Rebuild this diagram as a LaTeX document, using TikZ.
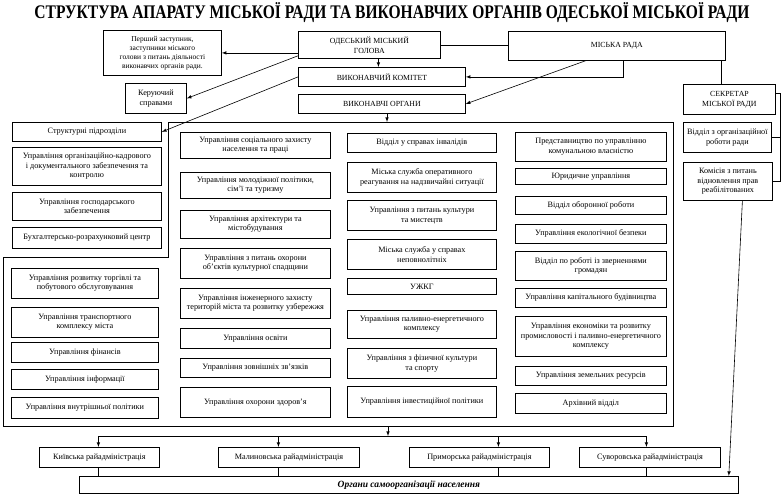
\documentclass[tikz,border=0pt]{standalone}
\usepackage{fontspec}
\setmainfont{Liberation Serif}
\usepackage{graphicx}
\usepackage{tikz}

\begin{document}
\begin{tikzpicture}[x=1pt, y=-1pt, >=latex,
box/.style={rectangle, draw=black, fill=white, thick, anchor=north west, align=center, inner sep=1pt, font=\fontsize{8.2}{9.5}\selectfont},
capbox/.style={box, font=\fontsize{7.8}{10}\selectfont},
link/.style={draw=black, semithick}
]
\useasboundingbox (0,0) rectangle (781,495);

\node[anchor=base](title) at (392,19){\resizebox{715pt}{16pt}{\fontsize{15}{17}\selectfont\bfseries СТРУКТУРА АПАРАТУ МІСЬКОЇ РАДИ ТА ВИКОНАВЧИХ ОРГАНІВ ОДЕСЬКОЇ МІСЬКОЇ РАДИ}};

% top level
\node[box, minimum width=118pt, minimum height=45pt, font=\fontsize{7.5}{9}\selectfont](zast) at (103,30){Перший заступник,\\заступники міського\\голови з питань діяльності\\виконавчих органів ради.};
\node[box, minimum width=61pt, minimum height=30pt](kerspr) at (125,83){Керуючий\\справами};
\node[capbox, minimum width=142pt, minimum height=27pt](mayor) at (298,31){ОДЕСЬКИЙ МІСЬКИЙ\\ГОЛОВА};
\node[capbox, minimum width=217pt, minimum height=29pt](rada) at (508,31){МІСЬКА РАДА};
\node[capbox, minimum width=167pt, minimum height=19pt](vk) at (298,67){ВИКОНАВЧИЙ КОМІТЕТ};
\node[capbox, minimum width=167pt, minimum height=19pt](vo) at (298,94){ВИКОНАВЧІ ОРГАНИ};
\node[capbox, minimum width=92pt, minimum height=30pt](sekr) at (683,84){СЕКРЕТАР\\МІСЬКОЇ РАДИ};
\node[box, minimum width=88pt, minimum height=30pt](vorg) at (683,122){Відділ з організаційної\\роботи ради};
\node[box, minimum width=89pt, minimum height=38pt](komis) at (683,162){Комісія з питань\\відновлення прав\\реабілітованих};

% frame of the executive bodies
\draw[thick] (168,122) -- (673,122) -- (673,426) -- (3,426) -- (3,257) -- (168,257) -- cycle;
\coordinate (ftop) at (387,122);
\coordinate (fbot) at (388,426);
\coordinate (bus) at (388,436);

% column 1
\node[box, minimum width=149pt, minimum height=19pt](strukt) at (12,122){Структурні підрозділи};
\node[box, minimum width=149pt, minimum height=38pt](orgkadr) at (12,147){Управління організаційно-кадрового\\і документального забезпечення та\\контролю};
\node[box, minimum width=149pt, minimum height=28pt](gosp) at (12,192){Управління господарського\\забезпечення};
\node[box, minimum width=149pt, minimum height=21pt](buh) at (12,227){Бухгалтерсько-розрахунковий центр};

\node[box, minimum width=147pt, minimum height=30pt](torg) at (11,268){Управління розвитку торгівлі та\\побутового обслуговування};
\node[box, minimum width=147pt, minimum height=30pt](transp) at (11,307){Управління транспортного\\комплексу міста};
\node[box, minimum width=147pt, minimum height=20pt](fin) at (11,342){Управління фінансів};
\node[box, minimum width=147pt, minimum height=20pt](inform) at (11,369){Управління інформації};
\node[box, minimum width=147pt, minimum height=21pt](vnutr) at (11,397){Управління внутрішньої політики};

% column 2
\node[box, minimum width=150pt, minimum height=26pt](soc) at (180,132){Управління соціального захисту\\населення та праці};
\node[box, minimum width=150pt, minimum height=26pt](molod) at (180,172){Управління молодіжної політики,\\сім'ї та туризму};
\node[box, minimum width=150pt, minimum height=28pt](archit) at (180,210){Управління архітектури та\\містобудування};
\node[box, minimum width=150pt, minimum height=30pt](spad) at (180,248){Управління з питань охорони\\об'єктів культурної спадщини};
\node[box, minimum width=150pt, minimum height=30pt](inzh) at (180,288){Управління інженерного захисту\\територій міста та розвитку узбережжя};
\node[box, minimum width=150pt, minimum height=20pt](osv) at (180,328){Управління освіти};
\node[box, minimum width=150pt, minimum height=19pt](zovn) at (180,358){Управління зовнішніх зв'язків};
\node[box, minimum width=150pt, minimum height=30pt](zdor) at (180,387){Управління охорони здоров'я};

% column 3
\node[box, minimum width=149pt, minimum height=19pt](inval) at (347,133){Відділ у справах інвалідів};
\node[box, minimum width=149pt, minimum height=30pt](ns) at (347,162){Міська служба оперативного\\реагування на надзвичайні ситуації};
\node[box, minimum width=149pt, minimum height=30pt](kult) at (347,200){Управління з питань культури\\та мистецтв};
\node[box, minimum width=149pt, minimum height=30pt](nepovn) at (347,239){Міська служба у справах\\неповнолітніх};
\node[box, minimum width=149pt, minimum height=16pt](uzhkg) at (347,278){УЖКГ};
\node[box, minimum width=149pt, minimum height=28pt](paliv) at (347,310){Управління паливно-енергетичного\\комплексу};
\node[box, minimum width=149pt, minimum height=30pt](fiz) at (347,348){Управління з фізичної культури\\та спорту};
\node[box, minimum width=149pt, minimum height=31pt](invest) at (347,386){Управління інвестиційної політики};

% column 4
\node[box, minimum width=151pt, minimum height=29pt](predst) at (515,132){Представництво по управлінню\\комунальною власністю};
\node[box, minimum width=151pt, minimum height=16pt](yur) at (515,168){Юридичне управління};
\node[box, minimum width=151pt, minimum height=18pt](obor) at (515,196){Відділ оборонної роботи};
\node[box, minimum width=151pt, minimum height=19pt](ekol) at (515,224){Управління екологічної безпеки};
\node[box, minimum width=151pt, minimum height=29pt](zvern) at (515,251){Відділ по роботі із зверненнями\\громадян};
\node[box, minimum width=151pt, minimum height=19pt](kapbud) at (515,288){Управління капітального будівництва};
\node[box, minimum width=151pt, minimum height=40pt](ekon) at (515,316){Управління економіки та розвитку\\промисловості і паливно-енергетичного\\комплексу};
\node[box, minimum width=151pt, minimum height=19pt](zem) at (515,366){Управління земельних ресурсів};
\node[box, minimum width=151pt, minimum height=20pt](arhiv) at (515,393){Архівний відділ};

% district administrations
\node[box, minimum width=120pt, minimum height=20pt](kyiv) at (39,447){Київська райадміністрація};
\node[box, minimum width=141pt, minimum height=20pt](malyn) at (218,447){Малиновська райадміністрація};
\node[box, minimum width=140pt, minimum height=20pt](prymor) at (409,447){Приморська райадміністрація};
\node[box, minimum width=141pt, minimum height=20pt](suvor) at (579,447){Суворовська райадміністрація};
\node[box, minimum width=659pt, minimum height=17pt, font=\fontsize{9.5}{10}\selectfont\bfseries\itshape](org) at (79,476){Органи самоорганізації населення};

% links from the head and the council
\draw[link, ->] (zast.east -| mayor.west) -- (zast.east);
\draw[link, ->] ([yshift=3pt]mayor.south west) -- (kerspr.east);
\draw[link, ->] (vk.west) -- (strukt.east);
\draw[link, ->] ([xshift=9pt]mayor.south) -- ([xshift=9pt]mayor.south |- vk.north);
\draw[link] (mayor.east) -- (mayor.east -| rada.west);
\draw[link, ->] ([xshift=6.5pt]rada.south) |- (vk.east);
\draw[link, ->] ([xshift=-31.5pt]rada.south) -- (vo.east);
\draw[link] ([xshift=-8pt]sekr.north) -- ([xshift=-8pt]sekr.north |- rada.south);
\draw[link] ([yshift=6pt]sekr.east) -- ++(4,0) |- (komis.east);
\draw[link] (vorg.east) -- ++(8,0);
\draw[link, ->] (vo.south -| ftop) -- (ftop);
\draw[link, ->] ([xshift=14.5pt]komis.south) -- ([xshift=-10pt]org.north east);

% links to the districts
\draw[link, ->] (fbot) -- (bus);
\draw[link, ->] (bus) -| ([xshift=-1pt]kyiv.north);
\draw[link, ->] (bus) -| ([xshift=-10.5pt]malyn.north);
\draw[link, ->] (bus) -| ([xshift=19pt]prymor.north);
\draw[link, ->] (bus) -| ([xshift=-3.5pt]suvor.north);
\draw[link] ([xshift=-1pt]kyiv.south) -- ([xshift=-1pt]kyiv.south |- org.north);
\draw[link] ([xshift=-10.5pt]malyn.south) -- ([xshift=-10.5pt]malyn.south |- org.north);
\draw[link] ([xshift=19pt]prymor.south) -- ([xshift=19pt]prymor.south |- org.north);
\draw[link] ([xshift=-3.5pt]suvor.south) -- ([xshift=-3.5pt]suvor.south |- org.north);

\end{tikzpicture}
\end{document}
